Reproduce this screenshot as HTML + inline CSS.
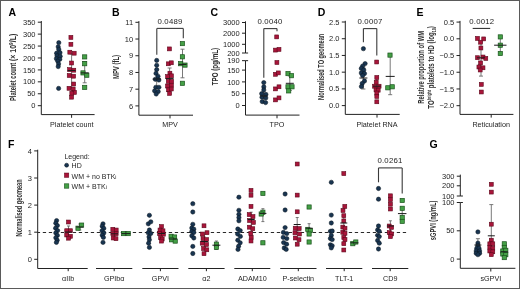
<!DOCTYPE html>
<html><head><meta charset="utf-8"><style>
html,body{margin:0;padding:0;background:#fff;}
body{width:520px;height:289px;overflow:hidden;}
svg{display:block;font-family:"Liberation Sans", sans-serif;will-change:transform;}
</style></head><body>
<svg width="520" height="289" viewBox="0 0 520 289">
<rect x="0" y="0" width="520" height="289" fill="#fff"/>
<rect x="0.5" y="0.5" width="519" height="288" fill="none" stroke="#5a5a5a" stroke-width="1"/>
<text x="8.60" y="15.60" font-size="10.5" text-anchor="start" font-weight="bold" fill="#000" >A</text>
<line x1="41.30" y1="20.99" x2="41.30" y2="114.60" stroke="#222" stroke-width="1" />
<line x1="37.80" y1="105.70" x2="41.30" y2="105.70" stroke="#222" stroke-width="1" />
<text x="35.50" y="108.30" font-size="7.5" text-anchor="end" font-weight="normal" fill="#1e1e1e" >0</text>
<line x1="37.80" y1="93.77" x2="41.30" y2="93.77" stroke="#222" stroke-width="1" />
<text x="35.50" y="96.37" font-size="7.5" text-anchor="end" font-weight="normal" fill="#1e1e1e" >50</text>
<line x1="37.80" y1="81.84" x2="41.30" y2="81.84" stroke="#222" stroke-width="1" />
<text x="35.50" y="84.44" font-size="7.5" text-anchor="end" font-weight="normal" fill="#1e1e1e" >100</text>
<line x1="37.80" y1="69.91" x2="41.30" y2="69.91" stroke="#222" stroke-width="1" />
<text x="35.50" y="72.51" font-size="7.5" text-anchor="end" font-weight="normal" fill="#1e1e1e" >150</text>
<line x1="37.80" y1="57.98" x2="41.30" y2="57.98" stroke="#222" stroke-width="1" />
<text x="35.50" y="60.58" font-size="7.5" text-anchor="end" font-weight="normal" fill="#1e1e1e" >200</text>
<line x1="37.80" y1="46.05" x2="41.30" y2="46.05" stroke="#222" stroke-width="1" />
<text x="35.50" y="48.65" font-size="7.5" text-anchor="end" font-weight="normal" fill="#1e1e1e" >250</text>
<line x1="37.80" y1="34.12" x2="41.30" y2="34.12" stroke="#222" stroke-width="1" />
<text x="35.50" y="36.72" font-size="7.5" text-anchor="end" font-weight="normal" fill="#1e1e1e" >300</text>
<line x1="37.80" y1="22.19" x2="41.30" y2="22.19" stroke="#222" stroke-width="1" />
<text x="35.50" y="24.79" font-size="7.5" text-anchor="end" font-weight="normal" fill="#1e1e1e" >350</text>
<line x1="41.30" y1="114.60" x2="94.60" y2="114.60" stroke="#222" stroke-width="1" />
<line x1="71.60" y1="114.60" x2="71.60" y2="117.80" stroke="#222" stroke-width="1" />
<text x="71.80" y="127.20" font-size="7.2" text-anchor="middle" font-weight="normal" fill="#1e1e1e" >Platelet count</text>
<text transform="translate(16.30,81.90) rotate(-90)" x="0" y="0" font-size="8.5" font-weight="bold" text-anchor="middle" fill="#2e2e2e" textLength="38.4" lengthAdjust="spacingAndGlyphs">Platelet count</text>
<text transform="translate(16.30,47.40) rotate(-90)" x="0" y="0" font-size="8.5" font-weight="bold" text-anchor="middle" fill="#2e2e2e" textLength="27.3" lengthAdjust="spacingAndGlyphs">(× 10<tspan font-size="5.6" dy="-2.9">9</tspan><tspan dy="2.9">/L)</tspan></text>
<text x="112.00" y="15.60" font-size="10.5" text-anchor="start" font-weight="bold" fill="#000" >B</text>
<line x1="138.90" y1="21.10" x2="138.90" y2="115.20" stroke="#222" stroke-width="1" />
<line x1="135.40" y1="105.90" x2="138.90" y2="105.90" stroke="#222" stroke-width="1" />
<text x="133.10" y="108.50" font-size="7.5" text-anchor="end" font-weight="normal" fill="#1e1e1e" >6</text>
<line x1="135.40" y1="89.18" x2="138.90" y2="89.18" stroke="#222" stroke-width="1" />
<text x="133.10" y="91.78" font-size="7.5" text-anchor="end" font-weight="normal" fill="#1e1e1e" >7</text>
<line x1="135.40" y1="72.46" x2="138.90" y2="72.46" stroke="#222" stroke-width="1" />
<text x="133.10" y="75.06" font-size="7.5" text-anchor="end" font-weight="normal" fill="#1e1e1e" >8</text>
<line x1="135.40" y1="55.74" x2="138.90" y2="55.74" stroke="#222" stroke-width="1" />
<text x="133.10" y="58.34" font-size="7.5" text-anchor="end" font-weight="normal" fill="#1e1e1e" >9</text>
<line x1="135.40" y1="39.02" x2="138.90" y2="39.02" stroke="#222" stroke-width="1" />
<text x="133.10" y="41.62" font-size="7.5" text-anchor="end" font-weight="normal" fill="#1e1e1e" >10</text>
<line x1="135.40" y1="22.30" x2="138.90" y2="22.30" stroke="#222" stroke-width="1" />
<text x="133.10" y="24.90" font-size="7.5" text-anchor="end" font-weight="normal" fill="#1e1e1e" >11</text>
<line x1="138.90" y1="115.20" x2="193.00" y2="115.20" stroke="#222" stroke-width="1" />
<line x1="170.00" y1="115.20" x2="170.00" y2="118.40" stroke="#222" stroke-width="1" />
<text x="170.00" y="127.20" font-size="7.2" text-anchor="middle" font-weight="normal" fill="#1e1e1e" >MPV</text>
<text transform="translate(119.30,67.00) rotate(-90)" x="0" y="0" font-size="8.5" font-weight="bold" text-anchor="middle" fill="#2e2e2e" textLength="24.2" lengthAdjust="spacingAndGlyphs">MPV (fL)</text>
<text x="170.00" y="23.70" font-size="7.8" text-anchor="middle" font-weight="normal" fill="#1e1e1e" letter-spacing="0.2">0.0489</text>
<text x="210.60" y="15.60" font-size="10.5" text-anchor="start" font-weight="bold" fill="#000" >C</text>
<line x1="245.50" y1="21.30" x2="245.50" y2="53.00" stroke="#222" stroke-width="1" />
<line x1="242.00" y1="22.50" x2="245.50" y2="22.50" stroke="#222" stroke-width="1" />
<text x="239.70" y="25.10" font-size="7.5" text-anchor="end" font-weight="normal" fill="#1e1e1e" >3000</text>
<line x1="242.00" y1="33.20" x2="245.50" y2="33.20" stroke="#222" stroke-width="1" />
<text x="239.70" y="35.80" font-size="7.5" text-anchor="end" font-weight="normal" fill="#1e1e1e" >2000</text>
<line x1="242.00" y1="44.30" x2="245.50" y2="44.30" stroke="#222" stroke-width="1" />
<text x="239.70" y="46.90" font-size="7.5" text-anchor="end" font-weight="normal" fill="#1e1e1e" >1000</text>
<line x1="242.00" y1="53.00" x2="245.50" y2="53.00" stroke="#222" stroke-width="1" />
<text x="239.70" y="55.60" font-size="7.5" text-anchor="end" font-weight="normal" fill="#1e1e1e" >200</text>
<line x1="245.50" y1="53.00" x2="248.10" y2="53.00" stroke="#222" stroke-width="1" />
<line x1="245.50" y1="60.66" x2="245.50" y2="115.10" stroke="#222" stroke-width="1" />
<line x1="242.00" y1="60.66" x2="245.50" y2="60.66" stroke="#222" stroke-width="1" />
<text x="239.70" y="63.26" font-size="7.5" text-anchor="end" font-weight="normal" fill="#1e1e1e" >190</text>
<line x1="242.00" y1="70.10" x2="245.50" y2="70.10" stroke="#222" stroke-width="1" />
<text x="239.70" y="72.70" font-size="7.5" text-anchor="end" font-weight="normal" fill="#1e1e1e" >150</text>
<line x1="242.00" y1="81.90" x2="245.50" y2="81.90" stroke="#222" stroke-width="1" />
<text x="239.70" y="84.50" font-size="7.5" text-anchor="end" font-weight="normal" fill="#1e1e1e" >100</text>
<line x1="242.00" y1="93.70" x2="245.50" y2="93.70" stroke="#222" stroke-width="1" />
<text x="239.70" y="96.30" font-size="7.5" text-anchor="end" font-weight="normal" fill="#1e1e1e" >50</text>
<line x1="242.00" y1="105.50" x2="245.50" y2="105.50" stroke="#222" stroke-width="1" />
<text x="239.70" y="108.10" font-size="7.5" text-anchor="end" font-weight="normal" fill="#1e1e1e" >0</text>
<line x1="245.50" y1="60.66" x2="248.10" y2="60.66" stroke="#222" stroke-width="1" />
<line x1="245.50" y1="115.10" x2="299.50" y2="115.10" stroke="#222" stroke-width="1" />
<line x1="277.00" y1="115.10" x2="277.00" y2="118.30" stroke="#222" stroke-width="1" />
<text x="277.00" y="127.20" font-size="7.2" text-anchor="middle" font-weight="normal" fill="#1e1e1e" >TPO</text>
<text transform="translate(217.70,66.60) rotate(-90)" x="0" y="0" font-size="8.5" font-weight="bold" text-anchor="middle" fill="#2e2e2e" textLength="37.5" lengthAdjust="spacingAndGlyphs">TPO (pg/mL)</text>
<text x="270.00" y="23.70" font-size="7.8" text-anchor="middle" font-weight="normal" fill="#1e1e1e" letter-spacing="0.2">0.0040</text>
<text x="317.80" y="15.60" font-size="10.5" text-anchor="start" font-weight="bold" fill="#000" >D</text>
<line x1="345.30" y1="20.80" x2="345.30" y2="114.40" stroke="#222" stroke-width="1" />
<line x1="341.80" y1="105.60" x2="345.30" y2="105.60" stroke="#222" stroke-width="1" />
<text x="339.50" y="108.20" font-size="7.5" text-anchor="end" font-weight="normal" fill="#1e1e1e" >0.0</text>
<line x1="341.80" y1="88.88" x2="345.30" y2="88.88" stroke="#222" stroke-width="1" />
<text x="339.50" y="91.48" font-size="7.5" text-anchor="end" font-weight="normal" fill="#1e1e1e" >0.5</text>
<line x1="341.80" y1="72.16" x2="345.30" y2="72.16" stroke="#222" stroke-width="1" />
<text x="339.50" y="74.76" font-size="7.5" text-anchor="end" font-weight="normal" fill="#1e1e1e" >1.0</text>
<line x1="341.80" y1="55.44" x2="345.30" y2="55.44" stroke="#222" stroke-width="1" />
<text x="339.50" y="58.04" font-size="7.5" text-anchor="end" font-weight="normal" fill="#1e1e1e" >1.5</text>
<line x1="341.80" y1="38.72" x2="345.30" y2="38.72" stroke="#222" stroke-width="1" />
<text x="339.50" y="41.32" font-size="7.5" text-anchor="end" font-weight="normal" fill="#1e1e1e" >2.0</text>
<line x1="341.80" y1="22.00" x2="345.30" y2="22.00" stroke="#222" stroke-width="1" />
<text x="339.50" y="24.60" font-size="7.5" text-anchor="end" font-weight="normal" fill="#1e1e1e" >2.5</text>
<line x1="345.30" y1="114.40" x2="399.70" y2="114.40" stroke="#222" stroke-width="1" />
<line x1="377.00" y1="114.40" x2="377.00" y2="117.60" stroke="#222" stroke-width="1" />
<text x="377.00" y="127.00" font-size="7.2" text-anchor="middle" font-weight="normal" fill="#1e1e1e" >Platelet RNA</text>
<text transform="translate(324.30,66.80) rotate(-90)" x="0" y="0" font-size="8.5" font-weight="bold" text-anchor="middle" fill="#2e2e2e" textLength="66.2" lengthAdjust="spacingAndGlyphs">Normalised TO geomean</text>
<text x="370.00" y="23.70" font-size="7.8" text-anchor="middle" font-weight="normal" fill="#1e1e1e" letter-spacing="0.2">0.0007</text>
<text x="416.60" y="15.60" font-size="10.5" text-anchor="start" font-weight="bold" fill="#000" >E</text>
<line x1="460.00" y1="20.88" x2="460.00" y2="114.40" stroke="#222" stroke-width="1" />
<line x1="456.50" y1="22.08" x2="460.00" y2="22.08" stroke="#222" stroke-width="1" />
<text x="454.20" y="24.68" font-size="7.5" text-anchor="end" font-weight="normal" fill="#1e1e1e" >0.5</text>
<line x1="456.50" y1="38.80" x2="460.00" y2="38.80" stroke="#222" stroke-width="1" />
<text x="454.20" y="41.40" font-size="7.5" text-anchor="end" font-weight="normal" fill="#1e1e1e" >0.0</text>
<line x1="456.50" y1="55.52" x2="460.00" y2="55.52" stroke="#222" stroke-width="1" />
<text x="454.20" y="58.12" font-size="7.5" text-anchor="end" font-weight="normal" fill="#1e1e1e" >−0.5</text>
<line x1="456.50" y1="72.24" x2="460.00" y2="72.24" stroke="#222" stroke-width="1" />
<text x="454.20" y="74.84" font-size="7.5" text-anchor="end" font-weight="normal" fill="#1e1e1e" >−1.0</text>
<line x1="456.50" y1="88.96" x2="460.00" y2="88.96" stroke="#222" stroke-width="1" />
<text x="454.20" y="91.56" font-size="7.5" text-anchor="end" font-weight="normal" fill="#1e1e1e" >−1.5</text>
<line x1="456.50" y1="105.68" x2="460.00" y2="105.68" stroke="#222" stroke-width="1" />
<text x="454.20" y="108.28" font-size="7.5" text-anchor="end" font-weight="normal" fill="#1e1e1e" >−2.0</text>
<line x1="460.00" y1="114.40" x2="513.40" y2="114.40" stroke="#222" stroke-width="1" />
<line x1="491.20" y1="114.40" x2="491.20" y2="117.60" stroke="#222" stroke-width="1" />
<text x="491.20" y="127.00" font-size="7.2" text-anchor="middle" font-weight="normal" fill="#1e1e1e" >Reticulation</text>
<text transform="translate(423.90,67.30) rotate(-90)" x="0" y="0" font-size="8.5" font-weight="bold" text-anchor="middle" fill="#2e2e2e" textLength="72.8" lengthAdjust="spacingAndGlyphs">Relative proportion of WM</text>
<text transform="translate(434.00,67.40) rotate(-90)" x="0" y="0" font-size="8.5" font-weight="bold" text-anchor="middle" fill="#2e2e2e" textLength="82.5" lengthAdjust="spacingAndGlyphs">TO<tspan font-size="5" dy="-2.6">bright</tspan><tspan dy="2.6"> platelets to HD (log</tspan><tspan font-size="5" dy="1.6">10</tspan><tspan dy="-1.6">)</tspan></text>
<text x="481.80" y="24.30" font-size="7.8" text-anchor="middle" font-weight="normal" fill="#1e1e1e" letter-spacing="0.2">0.0012</text>
<line x1="472.70" y1="28.40" x2="490.20" y2="28.40" stroke="#222" stroke-width="1" />
<text x="8.00" y="147.50" font-size="10.5" text-anchor="start" font-weight="bold" fill="#000" >F</text>
<line x1="37.70" y1="149.70" x2="37.70" y2="268.50" stroke="#222" stroke-width="1" />
<line x1="34.20" y1="259.30" x2="37.70" y2="259.30" stroke="#222" stroke-width="1" />
<text x="31.90" y="261.90" font-size="7.5" text-anchor="end" font-weight="normal" fill="#1e1e1e" >0</text>
<line x1="34.20" y1="232.20" x2="37.70" y2="232.20" stroke="#222" stroke-width="1" />
<text x="31.90" y="234.80" font-size="7.5" text-anchor="end" font-weight="normal" fill="#1e1e1e" >1</text>
<line x1="34.20" y1="205.10" x2="37.70" y2="205.10" stroke="#222" stroke-width="1" />
<text x="31.90" y="207.70" font-size="7.5" text-anchor="end" font-weight="normal" fill="#1e1e1e" >2</text>
<line x1="34.20" y1="178.00" x2="37.70" y2="178.00" stroke="#222" stroke-width="1" />
<text x="31.90" y="180.60" font-size="7.5" text-anchor="end" font-weight="normal" fill="#1e1e1e" >3</text>
<line x1="34.20" y1="150.90" x2="37.70" y2="150.90" stroke="#222" stroke-width="1" />
<text x="31.90" y="153.50" font-size="7.5" text-anchor="end" font-weight="normal" fill="#1e1e1e" >4</text>
<line x1="37.70" y1="268.50" x2="87.70" y2="268.50" stroke="#222" stroke-width="1" />
<line x1="96.00" y1="268.50" x2="132.30" y2="268.50" stroke="#222" stroke-width="1" />
<line x1="142.30" y1="268.50" x2="178.50" y2="268.50" stroke="#222" stroke-width="1" />
<line x1="188.30" y1="268.50" x2="224.60" y2="268.50" stroke="#222" stroke-width="1" />
<line x1="234.30" y1="268.50" x2="270.30" y2="268.50" stroke="#222" stroke-width="1" />
<line x1="280.20" y1="268.50" x2="316.50" y2="268.50" stroke="#222" stroke-width="1" />
<line x1="326.00" y1="268.50" x2="362.30" y2="268.50" stroke="#222" stroke-width="1" />
<line x1="372.00" y1="268.50" x2="408.30" y2="268.50" stroke="#222" stroke-width="1" />
<text x="68.20" y="281.30" font-size="7.2" text-anchor="middle" font-weight="normal" fill="#1e1e1e" >αIIb</text>
<line x1="68.20" y1="268.50" x2="68.20" y2="271.20" stroke="#222" stroke-width="1" />
<text x="114.20" y="281.30" font-size="7.2" text-anchor="middle" font-weight="normal" fill="#1e1e1e" >GPIbα</text>
<line x1="114.20" y1="268.50" x2="114.20" y2="271.20" stroke="#222" stroke-width="1" />
<text x="160.40" y="281.30" font-size="7.2" text-anchor="middle" font-weight="normal" fill="#1e1e1e" >GPVI</text>
<line x1="160.40" y1="268.50" x2="160.40" y2="271.20" stroke="#222" stroke-width="1" />
<text x="206.40" y="281.30" font-size="7.2" text-anchor="middle" font-weight="normal" fill="#1e1e1e" >α2</text>
<line x1="206.40" y1="268.50" x2="206.40" y2="271.20" stroke="#222" stroke-width="1" />
<text x="252.30" y="281.30" font-size="7.2" text-anchor="middle" font-weight="normal" fill="#1e1e1e" >ADAM10</text>
<line x1="252.30" y1="268.50" x2="252.30" y2="271.20" stroke="#222" stroke-width="1" />
<text x="298.30" y="281.30" font-size="7.2" text-anchor="middle" font-weight="normal" fill="#1e1e1e" >P-selectin</text>
<line x1="298.30" y1="268.50" x2="298.30" y2="271.20" stroke="#222" stroke-width="1" />
<text x="344.20" y="281.30" font-size="7.2" text-anchor="middle" font-weight="normal" fill="#1e1e1e" >TLT-1</text>
<line x1="344.20" y1="268.50" x2="344.20" y2="271.20" stroke="#222" stroke-width="1" />
<text x="390.20" y="281.30" font-size="7.2" text-anchor="middle" font-weight="normal" fill="#1e1e1e" >CD9</text>
<line x1="390.20" y1="268.50" x2="390.20" y2="271.20" stroke="#222" stroke-width="1" />
<text transform="translate(22.30,207.90) rotate(-90)" x="0" y="0" font-size="8.5" font-weight="bold" text-anchor="middle" fill="#2e2e2e" textLength="57.0" lengthAdjust="spacingAndGlyphs">Normalised geomean</text>
<line x1="37.70" y1="232.50" x2="408.30" y2="232.50" stroke="#2a2a2a" stroke-width="1.0" stroke-dasharray="3.3,2.7" stroke-dashoffset="0.9"/>
<text x="64.40" y="158.60" font-size="7.0" text-anchor="start" font-weight="normal" fill="#1e1e1e" >Legend:</text>
<circle cx="66.60" cy="165.20" r="2.0" fill="#193551" stroke="#08141f" stroke-width="0.5"/>
<text x="71.60" y="168.20" font-size="7.0" text-anchor="start" font-weight="normal" fill="#1e1e1e" >HD</text>
<rect x="64.4" y="173.0" width="4.4" height="4.4" fill="#a9153a" stroke="#5e081c" stroke-width="0.5"/>
<text x="71.60" y="178.60" font-size="7.0" text-anchor="start" font-weight="normal" fill="#1e1e1e" >WM + no BTK<tspan font-size="5">i</tspan></text>
<rect x="64.4" y="183.8" width="4.4" height="4.4" fill="#44a046" stroke="#1b531d" stroke-width="0.6"/>
<text x="71.60" y="189.00" font-size="7.0" text-anchor="start" font-weight="normal" fill="#1e1e1e" >WM + BTK<tspan font-size="5">i</tspan></text>
<text x="390.00" y="163.00" font-size="7.8" text-anchor="middle" font-weight="normal" fill="#1e1e1e" letter-spacing="0.2">0.0261</text>
<text x="429.40" y="147.80" font-size="10.5" text-anchor="start" font-weight="bold" fill="#000" >G</text>
<line x1="460.30" y1="174.60" x2="460.30" y2="196.00" stroke="#222" stroke-width="1" />
<line x1="456.80" y1="176.20" x2="460.30" y2="176.20" stroke="#222" stroke-width="1" />
<text x="454.50" y="178.80" font-size="7.5" text-anchor="end" font-weight="normal" fill="#1e1e1e" >300</text>
<line x1="456.80" y1="185.80" x2="460.30" y2="185.80" stroke="#222" stroke-width="1" />
<text x="454.50" y="188.40" font-size="7.5" text-anchor="end" font-weight="normal" fill="#1e1e1e" >200</text>
<line x1="456.80" y1="196.00" x2="460.30" y2="196.00" stroke="#222" stroke-width="1" />
<text x="454.50" y="198.60" font-size="7.5" text-anchor="end" font-weight="normal" fill="#1e1e1e" >100</text>
<line x1="460.30" y1="196.00" x2="462.90" y2="196.00" stroke="#222" stroke-width="1" />
<line x1="460.30" y1="202.50" x2="460.30" y2="268.30" stroke="#222" stroke-width="1" />
<line x1="456.80" y1="202.50" x2="460.30" y2="202.50" stroke="#222" stroke-width="1" />
<text x="454.50" y="205.10" font-size="7.5" text-anchor="end" font-weight="normal" fill="#1e1e1e" >100</text>
<line x1="456.80" y1="230.80" x2="460.30" y2="230.80" stroke="#222" stroke-width="1" />
<text x="454.50" y="233.40" font-size="7.5" text-anchor="end" font-weight="normal" fill="#1e1e1e" >50</text>
<line x1="456.80" y1="259.10" x2="460.30" y2="259.10" stroke="#222" stroke-width="1" />
<text x="454.50" y="261.70" font-size="7.5" text-anchor="end" font-weight="normal" fill="#1e1e1e" >0</text>
<line x1="460.30" y1="202.50" x2="462.90" y2="202.50" stroke="#222" stroke-width="1" />
<line x1="460.30" y1="268.30" x2="515.40" y2="268.30" stroke="#222" stroke-width="1" />
<line x1="490.80" y1="268.30" x2="490.80" y2="271.50" stroke="#222" stroke-width="1" />
<text x="490.80" y="281.30" font-size="7.2" text-anchor="middle" font-weight="normal" fill="#1e1e1e" >sGPVI</text>
<text transform="translate(435.50,220.40) rotate(-90)" x="0" y="0" font-size="8.5" font-weight="bold" text-anchor="middle" fill="#2e2e2e" textLength="39.5" lengthAdjust="spacingAndGlyphs">sGPVI (ng/mL)</text>
<line x1="71.60" y1="88.00" x2="71.60" y2="54.00" stroke="#6a6a6a" stroke-width="0.9" />
<line x1="69.60" y1="88.00" x2="73.60" y2="88.00" stroke="#6a6a6a" stroke-width="0.9" />
<line x1="69.60" y1="54.00" x2="73.60" y2="54.00" stroke="#6a6a6a" stroke-width="0.9" />
<line x1="84.70" y1="82.80" x2="84.70" y2="61.50" stroke="#6a6a6a" stroke-width="0.9" />
<line x1="82.70" y1="82.80" x2="86.70" y2="82.80" stroke="#6a6a6a" stroke-width="0.9" />
<line x1="82.70" y1="61.50" x2="86.70" y2="61.50" stroke="#6a6a6a" stroke-width="0.9" />
<circle cx="58.80" cy="42.70" r="2.15" fill="#193551" stroke="#08141f" stroke-width="0.5"/>
<circle cx="58.20" cy="46.80" r="2.15" fill="#193551" stroke="#08141f" stroke-width="0.5"/>
<circle cx="58.80" cy="49.40" r="2.15" fill="#193551" stroke="#08141f" stroke-width="0.5"/>
<circle cx="56.60" cy="53.20" r="2.15" fill="#193551" stroke="#08141f" stroke-width="0.5"/>
<circle cx="60.00" cy="52.70" r="2.15" fill="#193551" stroke="#08141f" stroke-width="0.5"/>
<circle cx="57.00" cy="55.80" r="2.15" fill="#193551" stroke="#08141f" stroke-width="0.5"/>
<circle cx="60.20" cy="56.30" r="2.15" fill="#193551" stroke="#08141f" stroke-width="0.5"/>
<circle cx="56.40" cy="58.70" r="2.15" fill="#193551" stroke="#08141f" stroke-width="0.5"/>
<circle cx="59.80" cy="59.30" r="2.15" fill="#193551" stroke="#08141f" stroke-width="0.5"/>
<circle cx="57.80" cy="61.20" r="2.15" fill="#193551" stroke="#08141f" stroke-width="0.5"/>
<circle cx="58.60" cy="63.90" r="2.15" fill="#193551" stroke="#08141f" stroke-width="0.5"/>
<circle cx="58.20" cy="66.60" r="2.15" fill="#193551" stroke="#08141f" stroke-width="0.5"/>
<circle cx="58.60" cy="88.40" r="2.15" fill="#193551" stroke="#08141f" stroke-width="0.5"/>
<rect x="68.95" y="35.45" width="3.9" height="3.9" fill="#a9153a" stroke="#5e081c" stroke-width="0.6"/>
<rect x="68.95" y="42.35" width="3.9" height="3.9" fill="#a9153a" stroke="#5e081c" stroke-width="0.6"/>
<rect x="67.85" y="50.25" width="3.9" height="3.9" fill="#a9153a" stroke="#5e081c" stroke-width="0.6"/>
<rect x="72.25" y="51.25" width="3.9" height="3.9" fill="#a9153a" stroke="#5e081c" stroke-width="0.6"/>
<rect x="69.65" y="61.05" width="3.9" height="3.9" fill="#a9153a" stroke="#5e081c" stroke-width="0.6"/>
<rect x="67.65" y="67.65" width="3.9" height="3.9" fill="#a9153a" stroke="#5e081c" stroke-width="0.6"/>
<rect x="71.85" y="68.25" width="3.9" height="3.9" fill="#a9153a" stroke="#5e081c" stroke-width="0.6"/>
<rect x="67.25" y="73.55" width="3.9" height="3.9" fill="#a9153a" stroke="#5e081c" stroke-width="0.6"/>
<rect x="71.65" y="74.25" width="3.9" height="3.9" fill="#a9153a" stroke="#5e081c" stroke-width="0.6"/>
<rect x="71.75" y="82.05" width="3.9" height="3.9" fill="#a9153a" stroke="#5e081c" stroke-width="0.6"/>
<rect x="67.05" y="86.35" width="3.9" height="3.9" fill="#a9153a" stroke="#5e081c" stroke-width="0.6"/>
<rect x="71.25" y="87.05" width="3.9" height="3.9" fill="#a9153a" stroke="#5e081c" stroke-width="0.6"/>
<rect x="72.45" y="90.45" width="3.9" height="3.9" fill="#a9153a" stroke="#5e081c" stroke-width="0.6"/>
<rect x="69.85" y="91.25" width="3.9" height="3.9" fill="#a9153a" stroke="#5e081c" stroke-width="0.6"/>
<rect x="69.65" y="95.25" width="3.9" height="3.9" fill="#a9153a" stroke="#5e081c" stroke-width="0.6"/>
<rect x="82.60" y="54.80" width="4.2" height="4.2" fill="#44a046" stroke="#1b531d" stroke-width="0.7"/>
<rect x="82.60" y="61.60" width="4.2" height="4.2" fill="#44a046" stroke="#1b531d" stroke-width="0.7"/>
<rect x="80.90" y="70.80" width="4.2" height="4.2" fill="#44a046" stroke="#1b531d" stroke-width="0.7"/>
<rect x="84.70" y="73.10" width="4.2" height="4.2" fill="#44a046" stroke="#1b531d" stroke-width="0.7"/>
<rect x="82.60" y="85.30" width="4.2" height="4.2" fill="#44a046" stroke="#1b531d" stroke-width="0.7"/>
<line x1="156.80" y1="54.80" x2="156.80" y2="28.40" stroke="#3a3a3a" stroke-width="1.1" />
<line x1="156.80" y1="28.40" x2="183.30" y2="28.40" stroke="#3a3a3a" stroke-width="1.1" />
<line x1="183.30" y1="28.40" x2="183.30" y2="38.20" stroke="#3a3a3a" stroke-width="1.1" />
<line x1="156.70" y1="88.50" x2="156.70" y2="70.00" stroke="#6a6a6a" stroke-width="0.9" />
<line x1="154.70" y1="88.50" x2="158.70" y2="88.50" stroke="#6a6a6a" stroke-width="0.9" />
<line x1="154.70" y1="70.00" x2="158.70" y2="70.00" stroke="#6a6a6a" stroke-width="0.9" />
<line x1="169.60" y1="89.50" x2="169.60" y2="68.00" stroke="#6a6a6a" stroke-width="0.9" />
<line x1="167.60" y1="89.50" x2="171.60" y2="89.50" stroke="#6a6a6a" stroke-width="0.9" />
<line x1="167.60" y1="68.00" x2="171.60" y2="68.00" stroke="#6a6a6a" stroke-width="0.9" />
<line x1="182.50" y1="77.80" x2="182.50" y2="49.20" stroke="#6a6a6a" stroke-width="0.9" />
<line x1="180.50" y1="77.80" x2="184.50" y2="77.80" stroke="#6a6a6a" stroke-width="0.9" />
<line x1="180.50" y1="49.20" x2="184.50" y2="49.20" stroke="#6a6a6a" stroke-width="0.9" />
<circle cx="156.70" cy="60.40" r="2.15" fill="#193551" stroke="#08141f" stroke-width="0.5"/>
<circle cx="156.70" cy="65.30" r="2.15" fill="#193551" stroke="#08141f" stroke-width="0.5"/>
<circle cx="156.70" cy="69.60" r="2.15" fill="#193551" stroke="#08141f" stroke-width="0.5"/>
<circle cx="156.00" cy="73.40" r="2.15" fill="#193551" stroke="#08141f" stroke-width="0.5"/>
<circle cx="158.00" cy="76.30" r="2.15" fill="#193551" stroke="#08141f" stroke-width="0.5"/>
<circle cx="155.30" cy="79.30" r="2.15" fill="#193551" stroke="#08141f" stroke-width="0.5"/>
<circle cx="158.90" cy="80.00" r="2.15" fill="#193551" stroke="#08141f" stroke-width="0.5"/>
<circle cx="155.80" cy="87.30" r="2.15" fill="#193551" stroke="#08141f" stroke-width="0.5"/>
<circle cx="158.90" cy="87.30" r="2.15" fill="#193551" stroke="#08141f" stroke-width="0.5"/>
<circle cx="154.60" cy="90.90" r="2.15" fill="#193551" stroke="#08141f" stroke-width="0.5"/>
<circle cx="158.20" cy="91.60" r="2.15" fill="#193551" stroke="#08141f" stroke-width="0.5"/>
<circle cx="156.20" cy="94.00" r="2.15" fill="#193551" stroke="#08141f" stroke-width="0.5"/>
<rect x="167.45" y="46.95" width="3.9" height="3.9" fill="#a9153a" stroke="#5e081c" stroke-width="0.6"/>
<rect x="166.35" y="61.85" width="3.9" height="3.9" fill="#a9153a" stroke="#5e081c" stroke-width="0.6"/>
<rect x="169.35" y="60.85" width="3.9" height="3.9" fill="#a9153a" stroke="#5e081c" stroke-width="0.6"/>
<rect x="167.95" y="71.25" width="3.9" height="3.9" fill="#a9153a" stroke="#5e081c" stroke-width="0.6"/>
<rect x="165.65" y="74.65" width="3.9" height="3.9" fill="#a9153a" stroke="#5e081c" stroke-width="0.6"/>
<rect x="169.45" y="73.85" width="3.9" height="3.9" fill="#a9153a" stroke="#5e081c" stroke-width="0.6"/>
<rect x="166.35" y="79.45" width="3.9" height="3.9" fill="#a9153a" stroke="#5e081c" stroke-width="0.6"/>
<rect x="169.65" y="79.45" width="3.9" height="3.9" fill="#a9153a" stroke="#5e081c" stroke-width="0.6"/>
<rect x="165.65" y="84.05" width="3.9" height="3.9" fill="#a9153a" stroke="#5e081c" stroke-width="0.6"/>
<rect x="169.45" y="83.25" width="3.9" height="3.9" fill="#a9153a" stroke="#5e081c" stroke-width="0.6"/>
<rect x="166.55" y="87.85" width="3.9" height="3.9" fill="#a9153a" stroke="#5e081c" stroke-width="0.6"/>
<rect x="169.35" y="87.05" width="3.9" height="3.9" fill="#a9153a" stroke="#5e081c" stroke-width="0.6"/>
<rect x="167.65" y="91.45" width="3.9" height="3.9" fill="#a9153a" stroke="#5e081c" stroke-width="0.6"/>
<rect x="180.30" y="41.50" width="4.2" height="4.2" fill="#44a046" stroke="#1b531d" stroke-width="0.7"/>
<rect x="180.30" y="54.70" width="4.2" height="4.2" fill="#44a046" stroke="#1b531d" stroke-width="0.7"/>
<rect x="178.60" y="61.60" width="4.2" height="4.2" fill="#44a046" stroke="#1b531d" stroke-width="0.7"/>
<rect x="182.90" y="63.00" width="4.2" height="4.2" fill="#44a046" stroke="#1b531d" stroke-width="0.7"/>
<rect x="180.30" y="81.20" width="4.2" height="4.2" fill="#44a046" stroke="#1b531d" stroke-width="0.7"/>
<line x1="263.80" y1="77.80" x2="263.80" y2="28.60" stroke="#3a3a3a" stroke-width="1.1" />
<line x1="263.80" y1="28.60" x2="277.00" y2="28.60" stroke="#3a3a3a" stroke-width="1.1" />
<line x1="277.00" y1="28.60" x2="277.00" y2="31.20" stroke="#3a3a3a" stroke-width="1.1" />
<line x1="289.80" y1="90.50" x2="289.80" y2="76.00" stroke="#6a6a6a" stroke-width="0.9" />
<line x1="287.80" y1="90.50" x2="291.80" y2="90.50" stroke="#6a6a6a" stroke-width="0.9" />
<line x1="287.80" y1="76.00" x2="291.80" y2="76.00" stroke="#6a6a6a" stroke-width="0.9" />
<line x1="263.80" y1="103.00" x2="263.80" y2="88.00" stroke="#6a6a6a" stroke-width="0.9" />
<line x1="261.80" y1="103.00" x2="265.80" y2="103.00" stroke="#6a6a6a" stroke-width="0.9" />
<line x1="261.80" y1="88.00" x2="265.80" y2="88.00" stroke="#6a6a6a" stroke-width="0.9" />
<circle cx="263.80" cy="82.60" r="2.15" fill="#193551" stroke="#08141f" stroke-width="0.5"/>
<circle cx="263.80" cy="86.80" r="2.15" fill="#193551" stroke="#08141f" stroke-width="0.5"/>
<circle cx="261.70" cy="93.70" r="2.15" fill="#193551" stroke="#08141f" stroke-width="0.5"/>
<circle cx="265.90" cy="94.40" r="2.15" fill="#193551" stroke="#08141f" stroke-width="0.5"/>
<circle cx="262.00" cy="97.20" r="2.15" fill="#193551" stroke="#08141f" stroke-width="0.5"/>
<circle cx="265.80" cy="97.90" r="2.15" fill="#193551" stroke="#08141f" stroke-width="0.5"/>
<circle cx="262.20" cy="101.60" r="2.15" fill="#193551" stroke="#08141f" stroke-width="0.5"/>
<circle cx="265.60" cy="102.60" r="2.15" fill="#193551" stroke="#08141f" stroke-width="0.5"/>
<circle cx="263.80" cy="90.00" r="2.15" fill="#193551" stroke="#08141f" stroke-width="0.5"/>
<rect x="274.75" y="34.95" width="3.9" height="3.9" fill="#a9153a" stroke="#5e081c" stroke-width="0.6"/>
<rect x="273.55" y="48.15" width="3.9" height="3.9" fill="#a9153a" stroke="#5e081c" stroke-width="0.6"/>
<rect x="277.05" y="47.45" width="3.9" height="3.9" fill="#a9153a" stroke="#5e081c" stroke-width="0.6"/>
<rect x="274.95" y="60.55" width="3.9" height="3.9" fill="#a9153a" stroke="#5e081c" stroke-width="0.6"/>
<rect x="273.55" y="72.35" width="3.9" height="3.9" fill="#a9153a" stroke="#5e081c" stroke-width="0.6"/>
<rect x="276.35" y="70.95" width="3.9" height="3.9" fill="#a9153a" stroke="#5e081c" stroke-width="0.6"/>
<rect x="273.55" y="86.95" width="3.9" height="3.9" fill="#a9153a" stroke="#5e081c" stroke-width="0.6"/>
<rect x="277.05" y="84.85" width="3.9" height="3.9" fill="#a9153a" stroke="#5e081c" stroke-width="0.6"/>
<rect x="273.55" y="97.95" width="3.9" height="3.9" fill="#a9153a" stroke="#5e081c" stroke-width="0.6"/>
<rect x="277.05" y="95.95" width="3.9" height="3.9" fill="#a9153a" stroke="#5e081c" stroke-width="0.6"/>
<rect x="285.90" y="71.50" width="4.2" height="4.2" fill="#44a046" stroke="#1b531d" stroke-width="0.7"/>
<rect x="289.40" y="73.60" width="4.2" height="4.2" fill="#44a046" stroke="#1b531d" stroke-width="0.7"/>
<rect x="285.90" y="84.70" width="4.2" height="4.2" fill="#44a046" stroke="#1b531d" stroke-width="0.7"/>
<rect x="289.90" y="84.70" width="4.2" height="4.2" fill="#44a046" stroke="#1b531d" stroke-width="0.7"/>
<rect x="286.60" y="88.80" width="4.2" height="4.2" fill="#44a046" stroke="#1b531d" stroke-width="0.7"/>
<line x1="363.40" y1="42.20" x2="363.40" y2="28.60" stroke="#3a3a3a" stroke-width="1.1" />
<line x1="363.40" y1="28.60" x2="376.80" y2="28.60" stroke="#3a3a3a" stroke-width="1.1" />
<line x1="376.80" y1="28.60" x2="376.80" y2="55.60" stroke="#3a3a3a" stroke-width="1.1" />
<line x1="363.40" y1="89.00" x2="363.40" y2="67.00" stroke="#6a6a6a" stroke-width="0.9" />
<line x1="361.40" y1="89.00" x2="365.40" y2="89.00" stroke="#6a6a6a" stroke-width="0.9" />
<line x1="361.40" y1="67.00" x2="365.40" y2="67.00" stroke="#6a6a6a" stroke-width="0.9" />
<line x1="376.80" y1="95.50" x2="376.80" y2="78.00" stroke="#6a6a6a" stroke-width="0.9" />
<line x1="374.80" y1="95.50" x2="378.80" y2="95.50" stroke="#6a6a6a" stroke-width="0.9" />
<line x1="374.80" y1="78.00" x2="378.80" y2="78.00" stroke="#6a6a6a" stroke-width="0.9" />
<line x1="390.20" y1="94.70" x2="390.20" y2="55.00" stroke="#6a6a6a" stroke-width="0.9" />
<line x1="388.20" y1="94.70" x2="392.20" y2="94.70" stroke="#6a6a6a" stroke-width="0.9" />
<line x1="388.20" y1="55.00" x2="392.20" y2="55.00" stroke="#6a6a6a" stroke-width="0.9" />
<circle cx="363.40" cy="48.70" r="2.15" fill="#193551" stroke="#08141f" stroke-width="0.5"/>
<circle cx="365.10" cy="63.60" r="2.15" fill="#193551" stroke="#08141f" stroke-width="0.5"/>
<circle cx="362.60" cy="66.10" r="2.15" fill="#193551" stroke="#08141f" stroke-width="0.5"/>
<circle cx="361.30" cy="68.50" r="2.15" fill="#193551" stroke="#08141f" stroke-width="0.5"/>
<circle cx="363.80" cy="70.00" r="2.15" fill="#193551" stroke="#08141f" stroke-width="0.5"/>
<circle cx="361.30" cy="73.00" r="2.15" fill="#193551" stroke="#08141f" stroke-width="0.5"/>
<circle cx="364.50" cy="73.60" r="2.15" fill="#193551" stroke="#08141f" stroke-width="0.5"/>
<circle cx="362.60" cy="75.60" r="2.15" fill="#193551" stroke="#08141f" stroke-width="0.5"/>
<circle cx="364.50" cy="81.00" r="2.15" fill="#193551" stroke="#08141f" stroke-width="0.5"/>
<circle cx="362.20" cy="83.50" r="2.15" fill="#193551" stroke="#08141f" stroke-width="0.5"/>
<circle cx="361.40" cy="86.60" r="2.15" fill="#193551" stroke="#08141f" stroke-width="0.5"/>
<rect x="374.75" y="60.05" width="3.9" height="3.9" fill="#a9153a" stroke="#5e081c" stroke-width="0.6"/>
<rect x="374.85" y="75.55" width="3.9" height="3.9" fill="#a9153a" stroke="#5e081c" stroke-width="0.6"/>
<rect x="374.25" y="80.25" width="3.9" height="3.9" fill="#a9153a" stroke="#5e081c" stroke-width="0.6"/>
<rect x="372.65" y="84.25" width="3.9" height="3.9" fill="#a9153a" stroke="#5e081c" stroke-width="0.6"/>
<rect x="377.15" y="84.25" width="3.9" height="3.9" fill="#a9153a" stroke="#5e081c" stroke-width="0.6"/>
<rect x="374.05" y="87.95" width="3.9" height="3.9" fill="#a9153a" stroke="#5e081c" stroke-width="0.6"/>
<rect x="376.25" y="88.25" width="3.9" height="3.9" fill="#a9153a" stroke="#5e081c" stroke-width="0.6"/>
<rect x="374.85" y="91.05" width="3.9" height="3.9" fill="#a9153a" stroke="#5e081c" stroke-width="0.6"/>
<rect x="374.85" y="94.45" width="3.9" height="3.9" fill="#a9153a" stroke="#5e081c" stroke-width="0.6"/>
<rect x="374.85" y="99.85" width="3.9" height="3.9" fill="#a9153a" stroke="#5e081c" stroke-width="0.6"/>
<rect x="387.90" y="53.00" width="4.2" height="4.2" fill="#44a046" stroke="#1b531d" stroke-width="0.7"/>
<rect x="385.70" y="85.70" width="4.2" height="4.2" fill="#44a046" stroke="#1b531d" stroke-width="0.7"/>
<rect x="390.10" y="84.70" width="4.2" height="4.2" fill="#44a046" stroke="#1b531d" stroke-width="0.7"/>
<line x1="481.00" y1="76.10" x2="481.00" y2="42.00" stroke="#6a6a6a" stroke-width="0.9" />
<line x1="479.00" y1="76.10" x2="483.00" y2="76.10" stroke="#6a6a6a" stroke-width="0.9" />
<line x1="479.00" y1="42.00" x2="483.00" y2="42.00" stroke="#6a6a6a" stroke-width="0.9" />
<line x1="500.30" y1="53.50" x2="500.30" y2="36.90" stroke="#6a6a6a" stroke-width="0.9" />
<rect x="475.55" y="36.45" width="3.9" height="3.9" fill="#a9153a" stroke="#5e081c" stroke-width="0.6"/>
<rect x="481.75" y="36.95" width="3.9" height="3.9" fill="#a9153a" stroke="#5e081c" stroke-width="0.6"/>
<rect x="478.65" y="40.25" width="3.9" height="3.9" fill="#a9153a" stroke="#5e081c" stroke-width="0.6"/>
<rect x="478.95" y="46.05" width="3.9" height="3.9" fill="#a9153a" stroke="#5e081c" stroke-width="0.6"/>
<rect x="475.55" y="55.75" width="3.9" height="3.9" fill="#a9153a" stroke="#5e081c" stroke-width="0.6"/>
<rect x="481.05" y="55.05" width="3.9" height="3.9" fill="#a9153a" stroke="#5e081c" stroke-width="0.6"/>
<rect x="483.85" y="56.45" width="3.9" height="3.9" fill="#a9153a" stroke="#5e081c" stroke-width="0.6"/>
<rect x="478.65" y="60.95" width="3.9" height="3.9" fill="#a9153a" stroke="#5e081c" stroke-width="0.6"/>
<rect x="476.95" y="65.05" width="3.9" height="3.9" fill="#a9153a" stroke="#5e081c" stroke-width="0.6"/>
<rect x="481.05" y="65.85" width="3.9" height="3.9" fill="#a9153a" stroke="#5e081c" stroke-width="0.6"/>
<rect x="478.25" y="68.05" width="3.9" height="3.9" fill="#a9153a" stroke="#5e081c" stroke-width="0.6"/>
<rect x="479.35" y="82.45" width="3.9" height="3.9" fill="#a9153a" stroke="#5e081c" stroke-width="0.6"/>
<rect x="479.35" y="90.05" width="3.9" height="3.9" fill="#a9153a" stroke="#5e081c" stroke-width="0.6"/>
<rect x="498.20" y="34.80" width="4.2" height="4.2" fill="#44a046" stroke="#1b531d" stroke-width="0.7"/>
<rect x="498.20" y="43.10" width="4.2" height="4.2" fill="#44a046" stroke="#1b531d" stroke-width="0.7"/>
<rect x="498.20" y="51.40" width="4.2" height="4.2" fill="#44a046" stroke="#1b531d" stroke-width="0.7"/>
<circle cx="56.60" cy="220.60" r="2.15" fill="#193551" stroke="#08141f" stroke-width="0.5"/>
<circle cx="55.80" cy="223.20" r="2.15" fill="#193551" stroke="#08141f" stroke-width="0.5"/>
<circle cx="57.40" cy="225.60" r="2.15" fill="#193551" stroke="#08141f" stroke-width="0.5"/>
<circle cx="55.60" cy="228.20" r="2.15" fill="#193551" stroke="#08141f" stroke-width="0.5"/>
<circle cx="57.60" cy="230.60" r="2.15" fill="#193551" stroke="#08141f" stroke-width="0.5"/>
<circle cx="55.80" cy="233.00" r="2.15" fill="#193551" stroke="#08141f" stroke-width="0.5"/>
<circle cx="57.40" cy="235.40" r="2.15" fill="#193551" stroke="#08141f" stroke-width="0.5"/>
<circle cx="55.80" cy="237.80" r="2.15" fill="#193551" stroke="#08141f" stroke-width="0.5"/>
<circle cx="57.20" cy="240.20" r="2.15" fill="#193551" stroke="#08141f" stroke-width="0.5"/>
<circle cx="56.40" cy="242.40" r="2.15" fill="#193551" stroke="#08141f" stroke-width="0.5"/>
<line x1="68.50" y1="238.00" x2="68.50" y2="226.00" stroke="#6a6a6a" stroke-width="0.9" />
<line x1="67.00" y1="238.00" x2="70.00" y2="238.00" stroke="#6a6a6a" stroke-width="0.9" />
<line x1="67.00" y1="226.00" x2="70.00" y2="226.00" stroke="#6a6a6a" stroke-width="0.9" />
<rect x="66.55" y="220.05" width="3.9" height="3.9" fill="#a9153a" stroke="#5e081c" stroke-width="0.6"/>
<rect x="64.75" y="228.75" width="3.9" height="3.9" fill="#a9153a" stroke="#5e081c" stroke-width="0.6"/>
<rect x="68.45" y="228.75" width="3.9" height="3.9" fill="#a9153a" stroke="#5e081c" stroke-width="0.6"/>
<rect x="64.75" y="233.05" width="3.9" height="3.9" fill="#a9153a" stroke="#5e081c" stroke-width="0.6"/>
<rect x="68.45" y="234.35" width="3.9" height="3.9" fill="#a9153a" stroke="#5e081c" stroke-width="0.6"/>
<rect x="66.55" y="236.25" width="3.9" height="3.9" fill="#a9153a" stroke="#5e081c" stroke-width="0.6"/>
<line x1="79.80" y1="230.00" x2="79.80" y2="224.00" stroke="#6a6a6a" stroke-width="0.9" />
<line x1="78.30" y1="230.00" x2="81.30" y2="230.00" stroke="#6a6a6a" stroke-width="0.9" />
<line x1="78.30" y1="224.00" x2="81.30" y2="224.00" stroke="#6a6a6a" stroke-width="0.9" />
<rect x="75.90" y="226.10" width="4.2" height="4.2" fill="#44a046" stroke="#1b531d" stroke-width="0.7"/>
<rect x="79.50" y="223.00" width="4.2" height="4.2" fill="#44a046" stroke="#1b531d" stroke-width="0.7"/>
<circle cx="103.00" cy="223.80" r="2.15" fill="#193551" stroke="#08141f" stroke-width="0.5"/>
<circle cx="102.20" cy="226.20" r="2.15" fill="#193551" stroke="#08141f" stroke-width="0.5"/>
<circle cx="103.80" cy="228.40" r="2.15" fill="#193551" stroke="#08141f" stroke-width="0.5"/>
<circle cx="102.00" cy="230.80" r="2.15" fill="#193551" stroke="#08141f" stroke-width="0.5"/>
<circle cx="103.80" cy="233.00" r="2.15" fill="#193551" stroke="#08141f" stroke-width="0.5"/>
<circle cx="102.20" cy="235.20" r="2.15" fill="#193551" stroke="#08141f" stroke-width="0.5"/>
<circle cx="103.40" cy="237.40" r="2.15" fill="#193551" stroke="#08141f" stroke-width="0.5"/>
<circle cx="103.00" cy="242.40" r="2.15" fill="#193551" stroke="#08141f" stroke-width="0.5"/>
<line x1="114.50" y1="238.50" x2="114.50" y2="229.00" stroke="#6a6a6a" stroke-width="0.9" />
<line x1="113.00" y1="238.50" x2="116.00" y2="238.50" stroke="#6a6a6a" stroke-width="0.9" />
<line x1="113.00" y1="229.00" x2="116.00" y2="229.00" stroke="#6a6a6a" stroke-width="0.9" />
<rect x="110.85" y="227.35" width="3.9" height="3.9" fill="#a9153a" stroke="#5e081c" stroke-width="0.6"/>
<rect x="114.25" y="228.05" width="3.9" height="3.9" fill="#a9153a" stroke="#5e081c" stroke-width="0.6"/>
<rect x="110.85" y="231.75" width="3.9" height="3.9" fill="#a9153a" stroke="#5e081c" stroke-width="0.6"/>
<rect x="114.25" y="231.75" width="3.9" height="3.9" fill="#a9153a" stroke="#5e081c" stroke-width="0.6"/>
<rect x="111.25" y="236.05" width="3.9" height="3.9" fill="#a9153a" stroke="#5e081c" stroke-width="0.6"/>
<rect x="114.05" y="236.75" width="3.9" height="3.9" fill="#a9153a" stroke="#5e081c" stroke-width="0.6"/>
<line x1="126.00" y1="235.00" x2="126.00" y2="232.00" stroke="#6a6a6a" stroke-width="0.9" />
<line x1="124.50" y1="235.00" x2="127.50" y2="235.00" stroke="#6a6a6a" stroke-width="0.9" />
<line x1="124.50" y1="232.00" x2="127.50" y2="232.00" stroke="#6a6a6a" stroke-width="0.9" />
<rect x="121.50" y="231.50" width="4.2" height="4.2" fill="#44a046" stroke="#1b531d" stroke-width="0.7"/>
<rect x="126.10" y="231.50" width="4.2" height="4.2" fill="#44a046" stroke="#1b531d" stroke-width="0.7"/>
<circle cx="149.40" cy="215.30" r="2.15" fill="#193551" stroke="#08141f" stroke-width="0.5"/>
<circle cx="148.30" cy="223.80" r="2.15" fill="#193551" stroke="#08141f" stroke-width="0.5"/>
<circle cx="150.80" cy="221.80" r="2.15" fill="#193551" stroke="#08141f" stroke-width="0.5"/>
<circle cx="149.40" cy="230.00" r="2.15" fill="#193551" stroke="#08141f" stroke-width="0.5"/>
<circle cx="148.20" cy="232.80" r="2.15" fill="#193551" stroke="#08141f" stroke-width="0.5"/>
<circle cx="150.80" cy="233.50" r="2.15" fill="#193551" stroke="#08141f" stroke-width="0.5"/>
<circle cx="149.00" cy="237.00" r="2.15" fill="#193551" stroke="#08141f" stroke-width="0.5"/>
<circle cx="149.40" cy="239.80" r="2.15" fill="#193551" stroke="#08141f" stroke-width="0.5"/>
<circle cx="148.60" cy="243.20" r="2.15" fill="#193551" stroke="#08141f" stroke-width="0.5"/>
<circle cx="149.40" cy="247.40" r="2.15" fill="#193551" stroke="#08141f" stroke-width="0.5"/>
<line x1="161.50" y1="239.50" x2="161.50" y2="227.50" stroke="#6a6a6a" stroke-width="0.9" />
<line x1="160.00" y1="239.50" x2="163.00" y2="239.50" stroke="#6a6a6a" stroke-width="0.9" />
<line x1="160.00" y1="227.50" x2="163.00" y2="227.50" stroke="#6a6a6a" stroke-width="0.9" />
<rect x="159.55" y="224.65" width="3.9" height="3.9" fill="#a9153a" stroke="#5e081c" stroke-width="0.6"/>
<rect x="158.05" y="228.05" width="3.9" height="3.9" fill="#a9153a" stroke="#5e081c" stroke-width="0.6"/>
<rect x="161.05" y="228.85" width="3.9" height="3.9" fill="#a9153a" stroke="#5e081c" stroke-width="0.6"/>
<rect x="157.65" y="231.55" width="3.9" height="3.9" fill="#a9153a" stroke="#5e081c" stroke-width="0.6"/>
<rect x="161.45" y="232.25" width="3.9" height="3.9" fill="#a9153a" stroke="#5e081c" stroke-width="0.6"/>
<rect x="158.65" y="235.75" width="3.9" height="3.9" fill="#a9153a" stroke="#5e081c" stroke-width="0.6"/>
<rect x="160.25" y="237.05" width="3.9" height="3.9" fill="#a9153a" stroke="#5e081c" stroke-width="0.6"/>
<rect x="159.55" y="239.15" width="3.9" height="3.9" fill="#a9153a" stroke="#5e081c" stroke-width="0.6"/>
<line x1="172.80" y1="241.50" x2="172.80" y2="236.50" stroke="#6a6a6a" stroke-width="0.9" />
<line x1="171.30" y1="241.50" x2="174.30" y2="241.50" stroke="#6a6a6a" stroke-width="0.9" />
<line x1="171.30" y1="236.50" x2="174.30" y2="236.50" stroke="#6a6a6a" stroke-width="0.9" />
<rect x="169.00" y="234.20" width="4.2" height="4.2" fill="#44a046" stroke="#1b531d" stroke-width="0.7"/>
<rect x="172.50" y="234.90" width="4.2" height="4.2" fill="#44a046" stroke="#1b531d" stroke-width="0.7"/>
<rect x="169.50" y="237.70" width="4.2" height="4.2" fill="#44a046" stroke="#1b531d" stroke-width="0.7"/>
<rect x="173.10" y="239.00" width="4.2" height="4.2" fill="#44a046" stroke="#1b531d" stroke-width="0.7"/>
<circle cx="192.80" cy="203.70" r="2.15" fill="#193551" stroke="#08141f" stroke-width="0.5"/>
<circle cx="192.80" cy="212.00" r="2.15" fill="#193551" stroke="#08141f" stroke-width="0.5"/>
<circle cx="192.80" cy="224.30" r="2.15" fill="#193551" stroke="#08141f" stroke-width="0.5"/>
<circle cx="191.80" cy="228.00" r="2.15" fill="#193551" stroke="#08141f" stroke-width="0.5"/>
<circle cx="193.80" cy="229.20" r="2.15" fill="#193551" stroke="#08141f" stroke-width="0.5"/>
<circle cx="191.80" cy="231.40" r="2.15" fill="#193551" stroke="#08141f" stroke-width="0.5"/>
<circle cx="193.80" cy="232.50" r="2.15" fill="#193551" stroke="#08141f" stroke-width="0.5"/>
<circle cx="191.80" cy="235.80" r="2.15" fill="#193551" stroke="#08141f" stroke-width="0.5"/>
<circle cx="193.80" cy="238.00" r="2.15" fill="#193551" stroke="#08141f" stroke-width="0.5"/>
<circle cx="192.80" cy="246.40" r="2.15" fill="#193551" stroke="#08141f" stroke-width="0.5"/>
<circle cx="192.80" cy="253.50" r="2.15" fill="#193551" stroke="#08141f" stroke-width="0.5"/>
<line x1="204.40" y1="249.00" x2="204.40" y2="234.00" stroke="#6a6a6a" stroke-width="0.9" />
<line x1="202.90" y1="249.00" x2="205.90" y2="249.00" stroke="#6a6a6a" stroke-width="0.9" />
<line x1="202.90" y1="234.00" x2="205.90" y2="234.00" stroke="#6a6a6a" stroke-width="0.9" />
<rect x="202.05" y="223.85" width="3.9" height="3.9" fill="#a9153a" stroke="#5e081c" stroke-width="0.6"/>
<rect x="200.45" y="232.05" width="3.9" height="3.9" fill="#a9153a" stroke="#5e081c" stroke-width="0.6"/>
<rect x="205.05" y="230.75" width="3.9" height="3.9" fill="#a9153a" stroke="#5e081c" stroke-width="0.6"/>
<rect x="201.05" y="236.65" width="3.9" height="3.9" fill="#a9153a" stroke="#5e081c" stroke-width="0.6"/>
<rect x="204.65" y="237.65" width="3.9" height="3.9" fill="#a9153a" stroke="#5e081c" stroke-width="0.6"/>
<rect x="200.25" y="241.25" width="3.9" height="3.9" fill="#a9153a" stroke="#5e081c" stroke-width="0.6"/>
<rect x="204.65" y="242.55" width="3.9" height="3.9" fill="#a9153a" stroke="#5e081c" stroke-width="0.6"/>
<rect x="201.65" y="246.55" width="3.9" height="3.9" fill="#a9153a" stroke="#5e081c" stroke-width="0.6"/>
<rect x="204.85" y="247.85" width="3.9" height="3.9" fill="#a9153a" stroke="#5e081c" stroke-width="0.6"/>
<rect x="202.05" y="251.75" width="3.9" height="3.9" fill="#a9153a" stroke="#5e081c" stroke-width="0.6"/>
<line x1="216.40" y1="249.50" x2="216.40" y2="241.00" stroke="#6a6a6a" stroke-width="0.9" />
<line x1="214.90" y1="249.50" x2="217.90" y2="249.50" stroke="#6a6a6a" stroke-width="0.9" />
<line x1="214.90" y1="241.00" x2="217.90" y2="241.00" stroke="#6a6a6a" stroke-width="0.9" />
<rect x="214.30" y="242.10" width="4.2" height="4.2" fill="#44a046" stroke="#1b531d" stroke-width="0.7"/>
<rect x="214.30" y="245.20" width="4.2" height="4.2" fill="#44a046" stroke="#1b531d" stroke-width="0.7"/>
<circle cx="238.90" cy="197.20" r="2.15" fill="#193551" stroke="#08141f" stroke-width="0.5"/>
<circle cx="238.90" cy="210.30" r="2.15" fill="#193551" stroke="#08141f" stroke-width="0.5"/>
<circle cx="238.90" cy="214.30" r="2.15" fill="#193551" stroke="#08141f" stroke-width="0.5"/>
<circle cx="238.90" cy="217.60" r="2.15" fill="#193551" stroke="#08141f" stroke-width="0.5"/>
<circle cx="238.90" cy="220.80" r="2.15" fill="#193551" stroke="#08141f" stroke-width="0.5"/>
<circle cx="237.80" cy="229.00" r="2.15" fill="#193551" stroke="#08141f" stroke-width="0.5"/>
<circle cx="240.20" cy="230.60" r="2.15" fill="#193551" stroke="#08141f" stroke-width="0.5"/>
<circle cx="237.60" cy="234.00" r="2.15" fill="#193551" stroke="#08141f" stroke-width="0.5"/>
<circle cx="240.40" cy="236.40" r="2.15" fill="#193551" stroke="#08141f" stroke-width="0.5"/>
<circle cx="237.80" cy="240.20" r="2.15" fill="#193551" stroke="#08141f" stroke-width="0.5"/>
<circle cx="240.20" cy="242.80" r="2.15" fill="#193551" stroke="#08141f" stroke-width="0.5"/>
<circle cx="238.60" cy="246.20" r="2.15" fill="#193551" stroke="#08141f" stroke-width="0.5"/>
<circle cx="238.00" cy="249.40" r="2.15" fill="#193551" stroke="#08141f" stroke-width="0.5"/>
<line x1="251.20" y1="232.00" x2="251.20" y2="212.20" stroke="#6a6a6a" stroke-width="0.9" />
<line x1="249.70" y1="232.00" x2="252.70" y2="232.00" stroke="#6a6a6a" stroke-width="0.9" />
<line x1="249.70" y1="212.20" x2="252.70" y2="212.20" stroke="#6a6a6a" stroke-width="0.9" />
<rect x="249.05" y="188.45" width="3.9" height="3.9" fill="#a9153a" stroke="#5e081c" stroke-width="0.6"/>
<rect x="249.05" y="193.25" width="3.9" height="3.9" fill="#a9153a" stroke="#5e081c" stroke-width="0.6"/>
<rect x="249.05" y="204.45" width="3.9" height="3.9" fill="#a9153a" stroke="#5e081c" stroke-width="0.6"/>
<rect x="247.25" y="212.65" width="3.9" height="3.9" fill="#a9153a" stroke="#5e081c" stroke-width="0.6"/>
<rect x="251.05" y="214.65" width="3.9" height="3.9" fill="#a9153a" stroke="#5e081c" stroke-width="0.6"/>
<rect x="247.65" y="218.55" width="3.9" height="3.9" fill="#a9153a" stroke="#5e081c" stroke-width="0.6"/>
<rect x="251.45" y="220.45" width="3.9" height="3.9" fill="#a9153a" stroke="#5e081c" stroke-width="0.6"/>
<rect x="247.45" y="225.25" width="3.9" height="3.9" fill="#a9153a" stroke="#5e081c" stroke-width="0.6"/>
<rect x="250.85" y="226.75" width="3.9" height="3.9" fill="#a9153a" stroke="#5e081c" stroke-width="0.6"/>
<rect x="248.85" y="231.45" width="3.9" height="3.9" fill="#a9153a" stroke="#5e081c" stroke-width="0.6"/>
<rect x="249.25" y="235.45" width="3.9" height="3.9" fill="#a9153a" stroke="#5e081c" stroke-width="0.6"/>
<rect x="249.05" y="239.05" width="3.9" height="3.9" fill="#a9153a" stroke="#5e081c" stroke-width="0.6"/>
<line x1="262.90" y1="221.60" x2="262.90" y2="208.70" stroke="#6a6a6a" stroke-width="0.9" />
<line x1="261.40" y1="221.60" x2="264.40" y2="221.60" stroke="#6a6a6a" stroke-width="0.9" />
<line x1="261.40" y1="208.70" x2="264.40" y2="208.70" stroke="#6a6a6a" stroke-width="0.9" />
<rect x="260.80" y="191.30" width="4.2" height="4.2" fill="#44a046" stroke="#1b531d" stroke-width="0.7"/>
<rect x="260.80" y="210.10" width="4.2" height="4.2" fill="#44a046" stroke="#1b531d" stroke-width="0.7"/>
<rect x="259.10" y="211.90" width="4.2" height="4.2" fill="#44a046" stroke="#1b531d" stroke-width="0.7"/>
<rect x="260.80" y="240.70" width="4.2" height="4.2" fill="#44a046" stroke="#1b531d" stroke-width="0.7"/>
<circle cx="285.10" cy="194.00" r="2.15" fill="#193551" stroke="#08141f" stroke-width="0.5"/>
<circle cx="285.10" cy="210.00" r="2.15" fill="#193551" stroke="#08141f" stroke-width="0.5"/>
<circle cx="285.10" cy="227.60" r="2.15" fill="#193551" stroke="#08141f" stroke-width="0.5"/>
<circle cx="283.40" cy="232.40" r="2.15" fill="#193551" stroke="#08141f" stroke-width="0.5"/>
<circle cx="286.80" cy="233.60" r="2.15" fill="#193551" stroke="#08141f" stroke-width="0.5"/>
<circle cx="283.20" cy="237.40" r="2.15" fill="#193551" stroke="#08141f" stroke-width="0.5"/>
<circle cx="286.80" cy="238.60" r="2.15" fill="#193551" stroke="#08141f" stroke-width="0.5"/>
<circle cx="283.60" cy="242.60" r="2.15" fill="#193551" stroke="#08141f" stroke-width="0.5"/>
<circle cx="286.60" cy="244.20" r="2.15" fill="#193551" stroke="#08141f" stroke-width="0.5"/>
<circle cx="284.20" cy="248.00" r="2.15" fill="#193551" stroke="#08141f" stroke-width="0.5"/>
<circle cx="286.20" cy="249.40" r="2.15" fill="#193551" stroke="#08141f" stroke-width="0.5"/>
<line x1="297.20" y1="231.00" x2="297.20" y2="217.50" stroke="#6a6a6a" stroke-width="0.9" />
<line x1="295.70" y1="231.00" x2="298.70" y2="231.00" stroke="#6a6a6a" stroke-width="0.9" />
<line x1="295.70" y1="217.50" x2="298.70" y2="217.50" stroke="#6a6a6a" stroke-width="0.9" />
<rect x="295.25" y="162.05" width="3.9" height="3.9" fill="#a9153a" stroke="#5e081c" stroke-width="0.6"/>
<rect x="295.25" y="193.15" width="3.9" height="3.9" fill="#a9153a" stroke="#5e081c" stroke-width="0.6"/>
<rect x="295.25" y="209.85" width="3.9" height="3.9" fill="#a9153a" stroke="#5e081c" stroke-width="0.6"/>
<rect x="293.25" y="226.25" width="3.9" height="3.9" fill="#a9153a" stroke="#5e081c" stroke-width="0.6"/>
<rect x="297.25" y="226.65" width="3.9" height="3.9" fill="#a9153a" stroke="#5e081c" stroke-width="0.6"/>
<rect x="293.05" y="230.85" width="3.9" height="3.9" fill="#a9153a" stroke="#5e081c" stroke-width="0.6"/>
<rect x="297.45" y="232.05" width="3.9" height="3.9" fill="#a9153a" stroke="#5e081c" stroke-width="0.6"/>
<rect x="293.45" y="236.05" width="3.9" height="3.9" fill="#a9153a" stroke="#5e081c" stroke-width="0.6"/>
<rect x="297.05" y="237.75" width="3.9" height="3.9" fill="#a9153a" stroke="#5e081c" stroke-width="0.6"/>
<rect x="295.25" y="242.25" width="3.9" height="3.9" fill="#a9153a" stroke="#5e081c" stroke-width="0.6"/>
<line x1="309.10" y1="233.50" x2="309.10" y2="223.70" stroke="#6a6a6a" stroke-width="0.9" />
<line x1="307.60" y1="233.50" x2="310.60" y2="233.50" stroke="#6a6a6a" stroke-width="0.9" />
<line x1="307.60" y1="223.70" x2="310.60" y2="223.70" stroke="#6a6a6a" stroke-width="0.9" />
<rect x="307.00" y="204.90" width="4.2" height="4.2" fill="#44a046" stroke="#1b531d" stroke-width="0.7"/>
<rect x="305.70" y="227.30" width="4.2" height="4.2" fill="#44a046" stroke="#1b531d" stroke-width="0.7"/>
<rect x="308.30" y="228.40" width="4.2" height="4.2" fill="#44a046" stroke="#1b531d" stroke-width="0.7"/>
<rect x="307.00" y="231.90" width="4.2" height="4.2" fill="#44a046" stroke="#1b531d" stroke-width="0.7"/>
<rect x="307.00" y="239.90" width="4.2" height="4.2" fill="#44a046" stroke="#1b531d" stroke-width="0.7"/>
<circle cx="331.30" cy="182.30" r="2.15" fill="#193551" stroke="#08141f" stroke-width="0.5"/>
<circle cx="331.30" cy="215.10" r="2.15" fill="#193551" stroke="#08141f" stroke-width="0.5"/>
<circle cx="331.30" cy="223.00" r="2.15" fill="#193551" stroke="#08141f" stroke-width="0.5"/>
<circle cx="330.40" cy="231.30" r="2.15" fill="#193551" stroke="#08141f" stroke-width="0.5"/>
<circle cx="332.20" cy="231.00" r="2.15" fill="#193551" stroke="#08141f" stroke-width="0.5"/>
<circle cx="331.30" cy="235.40" r="2.15" fill="#193551" stroke="#08141f" stroke-width="0.5"/>
<circle cx="330.40" cy="238.50" r="2.15" fill="#193551" stroke="#08141f" stroke-width="0.5"/>
<circle cx="332.20" cy="239.60" r="2.15" fill="#193551" stroke="#08141f" stroke-width="0.5"/>
<circle cx="330.40" cy="244.80" r="2.15" fill="#193551" stroke="#08141f" stroke-width="0.5"/>
<circle cx="332.20" cy="245.80" r="2.15" fill="#193551" stroke="#08141f" stroke-width="0.5"/>
<circle cx="331.30" cy="247.90" r="2.15" fill="#193551" stroke="#08141f" stroke-width="0.5"/>
<line x1="343.80" y1="231.00" x2="343.80" y2="216.00" stroke="#6a6a6a" stroke-width="0.9" />
<line x1="342.30" y1="231.00" x2="345.30" y2="231.00" stroke="#6a6a6a" stroke-width="0.9" />
<line x1="342.30" y1="216.00" x2="345.30" y2="216.00" stroke="#6a6a6a" stroke-width="0.9" />
<rect x="341.85" y="171.65" width="3.9" height="3.9" fill="#a9153a" stroke="#5e081c" stroke-width="0.6"/>
<rect x="341.05" y="208.55" width="3.9" height="3.9" fill="#a9153a" stroke="#5e081c" stroke-width="0.6"/>
<rect x="342.85" y="204.45" width="3.9" height="3.9" fill="#a9153a" stroke="#5e081c" stroke-width="0.6"/>
<rect x="341.85" y="213.75" width="3.9" height="3.9" fill="#a9153a" stroke="#5e081c" stroke-width="0.6"/>
<rect x="341.85" y="218.95" width="3.9" height="3.9" fill="#a9153a" stroke="#5e081c" stroke-width="0.6"/>
<rect x="340.85" y="225.15" width="3.9" height="3.9" fill="#a9153a" stroke="#5e081c" stroke-width="0.6"/>
<rect x="343.05" y="226.25" width="3.9" height="3.9" fill="#a9153a" stroke="#5e081c" stroke-width="0.6"/>
<rect x="340.85" y="230.35" width="3.9" height="3.9" fill="#a9153a" stroke="#5e081c" stroke-width="0.6"/>
<rect x="343.05" y="231.35" width="3.9" height="3.9" fill="#a9153a" stroke="#5e081c" stroke-width="0.6"/>
<rect x="341.85" y="235.55" width="3.9" height="3.9" fill="#a9153a" stroke="#5e081c" stroke-width="0.6"/>
<rect x="343.05" y="237.65" width="3.9" height="3.9" fill="#a9153a" stroke="#5e081c" stroke-width="0.6"/>
<rect x="341.85" y="241.75" width="3.9" height="3.9" fill="#a9153a" stroke="#5e081c" stroke-width="0.6"/>
<rect x="341.85" y="248.05" width="3.9" height="3.9" fill="#a9153a" stroke="#5e081c" stroke-width="0.6"/>
<line x1="354.40" y1="244.00" x2="354.40" y2="241.50" stroke="#6a6a6a" stroke-width="0.9" />
<line x1="352.90" y1="244.00" x2="355.90" y2="244.00" stroke="#6a6a6a" stroke-width="0.9" />
<line x1="352.90" y1="241.50" x2="355.90" y2="241.50" stroke="#6a6a6a" stroke-width="0.9" />
<rect x="350.70" y="241.60" width="4.2" height="4.2" fill="#44a046" stroke="#1b531d" stroke-width="0.7"/>
<rect x="353.70" y="239.90" width="4.2" height="4.2" fill="#44a046" stroke="#1b531d" stroke-width="0.7"/>
<line x1="378.50" y1="182.30" x2="378.50" y2="167.90" stroke="#3a3a3a" stroke-width="1.1" />
<line x1="378.50" y1="167.90" x2="402.20" y2="167.90" stroke="#3a3a3a" stroke-width="1.1" />
<line x1="402.20" y1="167.90" x2="402.20" y2="193.50" stroke="#3a3a3a" stroke-width="1.1" />
<circle cx="378.50" cy="188.50" r="2.15" fill="#193551" stroke="#08141f" stroke-width="0.5"/>
<circle cx="378.50" cy="199.20" r="2.15" fill="#193551" stroke="#08141f" stroke-width="0.5"/>
<circle cx="378.50" cy="226.00" r="2.15" fill="#193551" stroke="#08141f" stroke-width="0.5"/>
<circle cx="377.60" cy="230.00" r="2.15" fill="#193551" stroke="#08141f" stroke-width="0.5"/>
<circle cx="379.30" cy="231.30" r="2.15" fill="#193551" stroke="#08141f" stroke-width="0.5"/>
<circle cx="377.60" cy="235.30" r="2.15" fill="#193551" stroke="#08141f" stroke-width="0.5"/>
<circle cx="379.30" cy="236.60" r="2.15" fill="#193551" stroke="#08141f" stroke-width="0.5"/>
<circle cx="377.60" cy="240.50" r="2.15" fill="#193551" stroke="#08141f" stroke-width="0.5"/>
<circle cx="379.30" cy="243.20" r="2.15" fill="#193551" stroke="#08141f" stroke-width="0.5"/>
<circle cx="378.50" cy="249.00" r="2.15" fill="#193551" stroke="#08141f" stroke-width="0.5"/>
<line x1="390.40" y1="232.00" x2="390.40" y2="220.80" stroke="#6a6a6a" stroke-width="0.9" />
<line x1="388.90" y1="232.00" x2="391.90" y2="232.00" stroke="#6a6a6a" stroke-width="0.9" />
<line x1="388.90" y1="220.80" x2="391.90" y2="220.80" stroke="#6a6a6a" stroke-width="0.9" />
<rect x="388.45" y="193.85" width="3.9" height="3.9" fill="#a9153a" stroke="#5e081c" stroke-width="0.6"/>
<rect x="388.45" y="197.75" width="3.9" height="3.9" fill="#a9153a" stroke="#5e081c" stroke-width="0.6"/>
<rect x="388.45" y="202.25" width="3.9" height="3.9" fill="#a9153a" stroke="#5e081c" stroke-width="0.6"/>
<rect x="388.45" y="207.05" width="3.9" height="3.9" fill="#a9153a" stroke="#5e081c" stroke-width="0.6"/>
<rect x="387.25" y="224.05" width="3.9" height="3.9" fill="#a9153a" stroke="#5e081c" stroke-width="0.6"/>
<rect x="389.65" y="225.45" width="3.9" height="3.9" fill="#a9153a" stroke="#5e081c" stroke-width="0.6"/>
<rect x="387.25" y="230.65" width="3.9" height="3.9" fill="#a9153a" stroke="#5e081c" stroke-width="0.6"/>
<rect x="389.65" y="231.95" width="3.9" height="3.9" fill="#a9153a" stroke="#5e081c" stroke-width="0.6"/>
<rect x="388.45" y="234.65" width="3.9" height="3.9" fill="#a9153a" stroke="#5e081c" stroke-width="0.6"/>
<line x1="402.20" y1="218.50" x2="402.20" y2="207.50" stroke="#6a6a6a" stroke-width="0.9" />
<line x1="400.70" y1="218.50" x2="403.70" y2="218.50" stroke="#6a6a6a" stroke-width="0.9" />
<line x1="400.70" y1="207.50" x2="403.70" y2="207.50" stroke="#6a6a6a" stroke-width="0.9" />
<rect x="400.10" y="198.40" width="4.2" height="4.2" fill="#44a046" stroke="#1b531d" stroke-width="0.7"/>
<rect x="400.10" y="206.20" width="4.2" height="4.2" fill="#44a046" stroke="#1b531d" stroke-width="0.7"/>
<rect x="400.10" y="215.30" width="4.2" height="4.2" fill="#44a046" stroke="#1b531d" stroke-width="0.7"/>
<rect x="400.10" y="219.30" width="4.2" height="4.2" fill="#44a046" stroke="#1b531d" stroke-width="0.7"/>
<line x1="477.90" y1="251.50" x2="477.90" y2="238.70" stroke="#6a6a6a" stroke-width="0.9" />
<line x1="475.90" y1="251.50" x2="479.90" y2="251.50" stroke="#6a6a6a" stroke-width="0.9" />
<line x1="475.90" y1="238.70" x2="479.90" y2="238.70" stroke="#6a6a6a" stroke-width="0.9" />
<circle cx="477.90" cy="231.90" r="2.15" fill="#193551" stroke="#08141f" stroke-width="0.5"/>
<circle cx="477.90" cy="243.10" r="2.15" fill="#193551" stroke="#08141f" stroke-width="0.5"/>
<circle cx="477.90" cy="245.30" r="2.15" fill="#193551" stroke="#08141f" stroke-width="0.5"/>
<circle cx="476.80" cy="248.20" r="2.15" fill="#193551" stroke="#08141f" stroke-width="0.5"/>
<circle cx="479.00" cy="248.20" r="2.15" fill="#193551" stroke="#08141f" stroke-width="0.5"/>
<circle cx="476.20" cy="251.00" r="2.15" fill="#193551" stroke="#08141f" stroke-width="0.5"/>
<circle cx="479.60" cy="251.00" r="2.15" fill="#193551" stroke="#08141f" stroke-width="0.5"/>
<circle cx="476.20" cy="253.30" r="2.15" fill="#193551" stroke="#08141f" stroke-width="0.5"/>
<circle cx="479.60" cy="253.30" r="2.15" fill="#193551" stroke="#08141f" stroke-width="0.5"/>
<circle cx="477.90" cy="254.70" r="2.15" fill="#193551" stroke="#08141f" stroke-width="0.5"/>
<line x1="491.30" y1="240.00" x2="491.30" y2="204.60" stroke="#6a6a6a" stroke-width="0.9" />
<line x1="489.30" y1="240.00" x2="493.30" y2="240.00" stroke="#6a6a6a" stroke-width="0.9" />
<line x1="489.30" y1="204.60" x2="493.30" y2="204.60" stroke="#6a6a6a" stroke-width="0.9" />
<rect x="489.35" y="182.35" width="3.9" height="3.9" fill="#a9153a" stroke="#5e081c" stroke-width="0.6"/>
<rect x="489.35" y="190.15" width="3.9" height="3.9" fill="#a9153a" stroke="#5e081c" stroke-width="0.6"/>
<rect x="489.35" y="222.25" width="3.9" height="3.9" fill="#a9153a" stroke="#5e081c" stroke-width="0.6"/>
<rect x="489.35" y="238.25" width="3.9" height="3.9" fill="#a9153a" stroke="#5e081c" stroke-width="0.6"/>
<rect x="487.85" y="241.85" width="3.9" height="3.9" fill="#a9153a" stroke="#5e081c" stroke-width="0.6"/>
<rect x="490.85" y="241.85" width="3.9" height="3.9" fill="#a9153a" stroke="#5e081c" stroke-width="0.6"/>
<rect x="487.85" y="245.45" width="3.9" height="3.9" fill="#a9153a" stroke="#5e081c" stroke-width="0.6"/>
<rect x="490.85" y="246.25" width="3.9" height="3.9" fill="#a9153a" stroke="#5e081c" stroke-width="0.6"/>
<rect x="487.85" y="249.05" width="3.9" height="3.9" fill="#a9153a" stroke="#5e081c" stroke-width="0.6"/>
<rect x="490.85" y="249.85" width="3.9" height="3.9" fill="#a9153a" stroke="#5e081c" stroke-width="0.6"/>
<rect x="489.35" y="252.75" width="3.9" height="3.9" fill="#a9153a" stroke="#5e081c" stroke-width="0.6"/>
<line x1="504.30" y1="256.00" x2="504.30" y2="246.00" stroke="#6a6a6a" stroke-width="0.9" />
<line x1="502.30" y1="256.00" x2="506.30" y2="256.00" stroke="#6a6a6a" stroke-width="0.9" />
<line x1="502.30" y1="246.00" x2="506.30" y2="246.00" stroke="#6a6a6a" stroke-width="0.9" />
<rect x="502.20" y="241.70" width="4.2" height="4.2" fill="#44a046" stroke="#1b531d" stroke-width="0.7"/>
<rect x="502.20" y="245.30" width="4.2" height="4.2" fill="#44a046" stroke="#1b531d" stroke-width="0.7"/>
<rect x="500.70" y="248.90" width="4.2" height="4.2" fill="#44a046" stroke="#1b531d" stroke-width="0.7"/>
<rect x="503.70" y="248.20" width="4.2" height="4.2" fill="#44a046" stroke="#1b531d" stroke-width="0.7"/>
<rect x="500.70" y="251.90" width="4.2" height="4.2" fill="#44a046" stroke="#1b531d" stroke-width="0.7"/>
<rect x="503.70" y="252.60" width="4.2" height="4.2" fill="#44a046" stroke="#1b531d" stroke-width="0.7"/>
<rect x="502.20" y="255.50" width="4.2" height="4.2" fill="#44a046" stroke="#1b531d" stroke-width="0.7"/>
<line x1="67.60" y1="70.50" x2="75.60" y2="70.50" stroke="#1a1a1a" stroke-width="1.0"/>
<line x1="80.70" y1="72.90" x2="88.70" y2="72.90" stroke="#1a1a1a" stroke-width="1.0"/>
<line x1="152.70" y1="79.00" x2="160.70" y2="79.00" stroke="#1a1a1a" stroke-width="1.0"/>
<line x1="165.60" y1="78.60" x2="173.60" y2="78.60" stroke="#1a1a1a" stroke-width="1.0"/>
<line x1="178.50" y1="64.40" x2="186.50" y2="64.40" stroke="#1a1a1a" stroke-width="1.0"/>
<line x1="285.80" y1="83.30" x2="293.80" y2="83.30" stroke="#1a1a1a" stroke-width="1.0"/>
<line x1="260.30" y1="96.00" x2="267.30" y2="96.00" stroke="#1a1a1a" stroke-width="1.0"/>
<line x1="359.40" y1="78.00" x2="367.40" y2="78.00" stroke="#1a1a1a" stroke-width="1.0"/>
<line x1="372.80" y1="86.20" x2="380.80" y2="86.20" stroke="#1a1a1a" stroke-width="1.0"/>
<line x1="385.70" y1="76.40" x2="394.70" y2="76.40" stroke="#1a1a1a" stroke-width="1.0"/>
<line x1="477.00" y1="57.80" x2="485.00" y2="57.80" stroke="#1a1a1a" stroke-width="1.0"/>
<line x1="494.10" y1="45.20" x2="506.50" y2="45.20" stroke="#1a1a1a" stroke-width="1.0"/>
<line x1="65.00" y1="232.00" x2="72.00" y2="232.00" stroke="#1a1a1a" stroke-width="1.0"/>
<line x1="76.30" y1="227.00" x2="83.30" y2="227.00" stroke="#1a1a1a" stroke-width="1.0"/>
<line x1="111.00" y1="233.80" x2="118.00" y2="233.80" stroke="#1a1a1a" stroke-width="1.0"/>
<line x1="121.50" y1="233.60" x2="130.50" y2="233.60" stroke="#1a1a1a" stroke-width="1.0"/>
<line x1="158.00" y1="233.50" x2="165.00" y2="233.50" stroke="#1a1a1a" stroke-width="1.0"/>
<line x1="168.80" y1="239.00" x2="176.80" y2="239.00" stroke="#1a1a1a" stroke-width="1.0"/>
<line x1="200.90" y1="241.50" x2="207.90" y2="241.50" stroke="#1a1a1a" stroke-width="1.0"/>
<line x1="212.40" y1="245.20" x2="220.40" y2="245.20" stroke="#1a1a1a" stroke-width="1.0"/>
<line x1="247.70" y1="219.50" x2="254.70" y2="219.50" stroke="#1a1a1a" stroke-width="1.0"/>
<line x1="259.40" y1="213.40" x2="266.40" y2="213.40" stroke="#1a1a1a" stroke-width="1.0"/>
<line x1="293.70" y1="224.50" x2="300.70" y2="224.50" stroke="#1a1a1a" stroke-width="1.0"/>
<line x1="305.60" y1="228.20" x2="312.60" y2="228.20" stroke="#1a1a1a" stroke-width="1.0"/>
<line x1="340.30" y1="223.00" x2="347.30" y2="223.00" stroke="#1a1a1a" stroke-width="1.0"/>
<line x1="350.40" y1="242.80" x2="358.40" y2="242.80" stroke="#1a1a1a" stroke-width="1.0"/>
<line x1="386.90" y1="226.00" x2="393.90" y2="226.00" stroke="#1a1a1a" stroke-width="1.0"/>
<line x1="397.95" y1="213.60" x2="406.45" y2="213.60" stroke="#1a1a1a" stroke-width="1.0"/>
<line x1="474.40" y1="245.00" x2="481.40" y2="245.00" stroke="#1a1a1a" stroke-width="1.0"/>
<line x1="487.80" y1="235.80" x2="494.80" y2="235.80" stroke="#1a1a1a" stroke-width="1.0"/>
<line x1="500.80" y1="251.80" x2="507.80" y2="251.80" stroke="#1a1a1a" stroke-width="1.0"/>
</svg></body></html>
